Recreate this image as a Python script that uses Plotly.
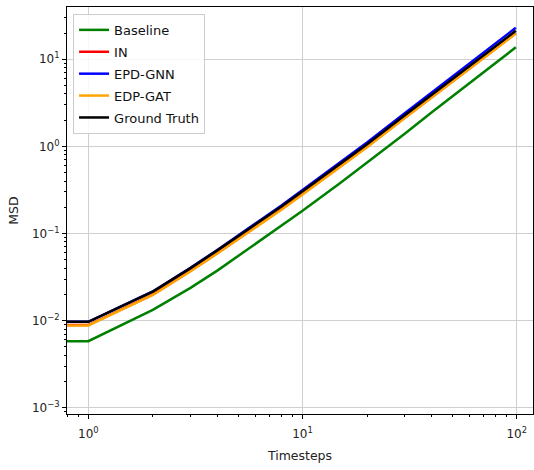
import numpy as np
import plotly.graph_objects as go

# Sampled timesteps (0 is clipped to a tiny positive value on the log axis)
timesteps = [0, 1, 2, 3, 4, 5, 6, 8, 10, 15, 20, 30, 40, 50, 60, 70, 80, 90, 99]

msd_baseline = [0.0058, 0.0058, 0.0133, 0.0238, 0.0375, 0.055, 0.075, 0.122, 0.182,
                0.38, 0.65, 1.40, 2.45, 3.75, 5.3, 7.1, 9.1, 11.4, 13.7]
msd_in = [0.0089, 0.0089, 0.0199, 0.0372, 0.0595, 0.0865, 0.117, 0.191, 0.284,
          0.588, 0.99, 2.13, 3.65, 5.52, 7.77, 10.4, 13.3, 16.6, 19.9]
msd_epd_gnn = [0.0097, 0.0097, 0.0216, 0.0403, 0.0647, 0.0945, 0.129, 0.211, 0.315,
               0.655, 1.11, 2.40, 4.13, 6.27, 8.86, 11.9, 15.3, 19.2, 23.0]
msd_edp_gat = [0.0088, 0.0088, 0.0197, 0.0369, 0.059, 0.0858, 0.116, 0.189, 0.281,
               0.582, 0.98, 2.11, 3.61, 5.46, 7.69, 10.3, 13.2, 16.4, 19.7]
msd_ground_truth = [0.0097, 0.0097, 0.0215, 0.040, 0.064, 0.093, 0.126, 0.205, 0.305,
                    0.63, 1.06, 2.28, 3.90, 5.90, 8.30, 11.1, 14.2, 17.7, 21.2]

series = [
    ("Baseline", msd_baseline, "green"),
    ("IN", msd_in, "red"),
    ("EPD-GNN", msd_epd_gnn, "blue"),
    ("EDP-GAT", msd_edp_gat, "orange"),
    ("Ground Truth", msd_ground_truth, "black"),
]

# mimic a log axis clipping non-positive x values
x_plot = np.clip(np.array(timesteps, dtype=float), 1e-3, None)

fig = go.Figure()
for name, values, color in series:
    fig.add_trace(go.Scatter(
        x=x_plot, y=values, mode="lines", name=name,
        legendgroup=name,
        line=dict(color=color, width=2.5),
    ))

font_family = "DejaVu Sans"
tick_font = dict(family=font_family, size=12, color="#222222")
title_font = dict(family=font_family, size=12.5, color="#222222")

x_major = [1, 10, 100]
x_major_text = ["10<sup>0</sup>", "10<sup>1</sup>", "10<sup>2</sup>"]
x_minor = [m * d for d in (0.1, 1, 10, 100) for m in range(2, 10)]

y_major = [1e-3, 1e-2, 1e-1, 1, 10]
y_major_text = ["10<sup>\u22123</sup>", "10<sup>\u22122</sup>", "10<sup>\u22121</sup>",
                "10<sup>0</sup>", "10<sup>1</sup>"]
y_minor = [m * d for d in (1e-4, 1e-3, 1e-2, 1e-1, 1, 10) for m in range(2, 10)]

axis_common = dict(
    type="log",
    showline=True, linecolor="black", linewidth=1, mirror=True,
    ticks="outside", ticklen=4, tickwidth=1, tickcolor="black",
    showgrid=True, gridcolor="#cfcfcf", gridwidth=1,
    zeroline=False,
    tickfont=tick_font,
)

fig.update_xaxes(
    **axis_common,
    range=[-0.0995, 2.076],
    tickmode="array", tickvals=x_major, ticktext=x_major_text,
    ticklabelstandoff=5,
    minor=dict(tickmode="array", tickvals=x_minor, ticks="outside",
               ticklen=2, tickcolor="black", showgrid=False),
    title=dict(text="Timesteps", font=title_font, standoff=10),
)
fig.update_yaxes(
    **axis_common,
    range=[-3.072, 1.600],
    tickmode="array", tickvals=y_major, ticktext=y_major_text,
    minor=dict(tickmode="array", tickvals=y_minor, ticks="outside",
               ticklen=2, tickcolor="black", showgrid=False),
    title=dict(text="MSD", font=title_font, standoff=10),
)

fig.update_layout(
    width=534, height=470,
    margin=dict(l=67, r=1, t=7, b=56),
    paper_bgcolor="white", plot_bgcolor="white",
    showlegend=True,
    legend=dict(
        x=0.013, y=0.983, xanchor="left", yanchor="top",
        bgcolor="rgba(255,255,255,0.85)", bordercolor="#cccccc", borderwidth=1,
        font=dict(family=font_family, size=13, color="#111111"),
        tracegroupgap=2,
    ),
)

fig.write_html("out.html")
